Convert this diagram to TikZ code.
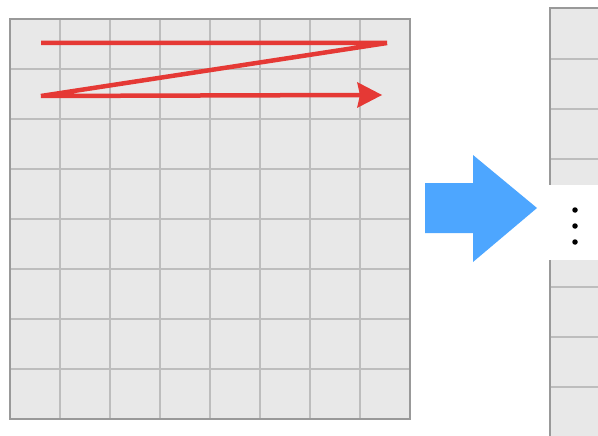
\documentclass[tikz,border=0pt]{standalone}
\usetikzlibrary{arrows.meta}
\definecolor{cellfill}{HTML}{E8E8E8}
\definecolor{gridline}{HTML}{BDBDBD}
\definecolor{frameline}{HTML}{999999}
\definecolor{scanred}{HTML}{E53935}
\definecolor{flowblue}{HTML}{4DA6FF}
\tikzset{
  inner grid/.style={draw=gridline, line width=1.3pt},
  outer frame/.style={draw=frameline, line width=2pt},
  scan/.style={draw=scanred, line width=4.5pt, line cap=butt, line join=miter},
  dotmark/.style={circle, fill=black, inner sep=0pt, minimum size=5.5pt},
}
\begin{document}
\begin{tikzpicture}[x=1pt, y=-1pt]
  \useasboundingbox (0,0) rectangle (598,436);
  \clip (0,0) rectangle (598,436);

  % 8x8 input matrix
  \fill[cellfill] (10,19) rectangle (410,419);
  \foreach \k in {1,...,7} {
    \draw[inner grid] ({10+50*\k},19) -- ({10+50*\k},419);
    \draw[inner grid] (10,{19+50*\k}) -- (410,{19+50*\k});
  }
  \draw[outer frame] (10,19) rectangle (410,419);

  % row-major scan path
  \coordinate (r1s) at (41,43);
  \coordinate (r1e) at (387,43);
  \coordinate (r2s) at (41,96);
  \coordinate (r2e) at (382,95);
  \draw[scan] (r1s) -- (r1e) -- (r2s) -- (360,95);
  \fill[scanred] (r2e) -- (357,82) -- (360,95) -- (357,108) -- cycle;

  % block arrow
  \fill[flowblue] (425,183) -- (473,183) -- (473,155) -- (537,208)
    -- (473,262) -- (473,233) -- (425,233) -- cycle;

  % flattened column, upper part
  \fill[cellfill] (550,8) rectangle (620,185);
  \foreach \y in {59,109,159}
    \draw[inner grid] (550,\y) -- (620,\y);
  \draw[outer frame] (620,8) -- (550,8) -- (550,185);

  % flattened column, lower part
  \fill[cellfill] (550,260) rectangle (620,440);
  \foreach \y in {287,337,387}
    \draw[inner grid] (550,\y) -- (620,\y);
  \draw[outer frame] (550,260) -- (550,440);

  % elision dots
  \node[dotmark] (d1) at (575,210) {};
  \node[dotmark] (d2) at (575,226) {};
  \node[dotmark] (d3) at (575,242) {};
\end{tikzpicture}
\end{document}
